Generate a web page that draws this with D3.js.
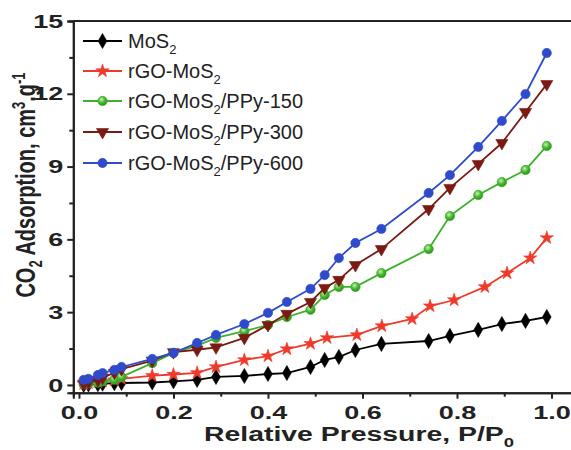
<!DOCTYPE html>
<html>
<head>
<meta charset="utf-8">
<script src="https://cdn.jsdelivr.net/npm/d3@7"></script>
<style>
  html, body { margin: 0; padding: 0; background: #fff; }
  svg { display: block; font-family: "Liberation Sans", Arial, sans-serif; }
</style>
</head>
<body>
<svg id="chart" width="571" height="450"></svg>
<script>
// Relative pressure grid shared by most isotherms
const pressure = [0.01, 0.02, 0.04, 0.05, 0.075, 0.09, 0.155, 0.2, 0.25, 0.29, 0.35, 0.40,
                  0.44, 0.49, 0.52, 0.55, 0.585, 0.64, 0.74, 0.785, 0.845, 0.895, 0.945, 0.99];
// rGO-MoS2 was measured on a slightly different grid
const pressureRGO = [0.01, 0.02, 0.04, 0.05, 0.075, 0.09, 0.155, 0.2, 0.25, 0.29, 0.35, 0.40,
                     0.44, 0.49, 0.525, 0.588, 0.641, 0.705, 0.743, 0.794, 0.859, 0.906, 0.955, 0.99];

// CO2 uptake (cm3/g)
const mos2    = [0.00, 0.02, 0.03, 0.05, 0.07, 0.08, 0.10, 0.15, 0.21, 0.33, 0.37, 0.45,
                 0.49, 0.74, 1.03, 1.15, 1.44, 1.69, 1.81, 2.02, 2.27, 2.51, 2.64, 2.80];
const rgoMos2 = [0.05, 0.08, 0.12, 0.15, 0.20, 0.25, 0.38, 0.43, 0.50, 0.74, 1.03, 1.19,
                 1.48, 1.70, 1.94, 2.06, 2.43, 2.72, 3.25, 3.50, 4.04, 4.61, 5.23, 6.06];
const ppy150  = [0.03, 0.05, 0.10, 0.15, 0.22, 0.33, 0.90, 1.32, 1.62, 1.94, 2.22, 2.47,
                 2.80, 3.10, 3.71, 4.04, 4.04, 4.61, 5.60, 6.96, 7.83, 8.36, 8.86, 9.85];
const ppy300  = [0.05, 0.10, 0.20, 0.30, 0.50, 0.65, 1.00, 1.35, 1.45, 1.55, 1.94, 2.47,
                 2.93, 3.42, 4.00, 4.33, 4.94, 5.60, 7.25, 8.12, 9.11, 9.97, 11.25, 12.40];
const ppy600  = [0.21, 0.25, 0.41, 0.49, 0.62, 0.74, 1.07, 1.32, 1.73, 2.06, 2.51, 2.97,
                 3.42, 3.96, 4.53, 5.23, 5.85, 6.43, 7.91, 8.65, 9.81, 10.88, 11.99, 13.68];

const seriesNames = ["MoS2", "rGO-MoS2", "rGO-MoS2/PPy-150", "rGO-MoS2/PPy-300", "rGO-MoS2/PPy-600"];
const seriesColors = ["#000000", "#ef3a2b", "#3db32a", "#7a1a12", "#2f4bcb"];
const seriesSymbols = ["diamond", "star", "sphere", "triangleDown", "circle"];

const xTicks = [0, 0.2, 0.4, 0.6, 0.8, 1.0];
const xMinor = [0.1, 0.3, 0.5, 0.7, 0.9, 1.1];
const yTicks = [0, 3, 6, 9, 12, 15];
const yMinor = [1.5, 4.5, 7.5, 10.5, 13.5];

const series = [
  { x: pressure,    y: mos2 },
  { x: pressureRGO, y: rgoMos2 },
  { x: pressure,    y: ppy150 },
  { x: pressure,    y: ppy300 },
  { x: pressure,    y: ppy600 }
].map((s, i) => ({
  name: seriesNames[i], color: seriesColors[i], symbol: seriesSymbols[i],
  points: s.x.map((px, j) => [px, s.y[j]])
}));

const svg = d3.select("#chart");
const axisColor = "#222";
const labelStretch = 1.42;   // the bold axis lettering is set wide

const x = d3.scaleLinear().domain([-0.012, 1.2]).range([73.3, 646]);
const y = d3.scaleLinear().domain([-0.32, 15]).range([392.7, 21]);

// Gradient for the shaded green spheres
const defs = svg.append("defs");
const grad = defs.append("radialGradient").attr("id", "greenBall")
  .attr("cx", "40%").attr("cy", "35%").attr("r", "65%");
grad.append("stop").attr("offset", "0%").attr("stop-color", "#c9f0b5");
grad.append("stop").attr("offset", "55%").attr("stop-color", "#45b832");
grad.append("stop").attr("offset", "100%").attr("stop-color", "#2c8f1c");

function markerPath(symbol) {
  switch (symbol) {
    case "diamond": return d3.symbol(d3.symbolDiamond, 66)();
    case "star": return d3.symbol(d3.symbolStar, 55)();
    case "triangleDown": return d3.symbol(d3.symbolTriangle, 64)();
    default: return d3.symbol(d3.symbolCircle, 68)();
  }
}

function drawMarker(g, s, cx, cy) {
  const m = g.append("path")
    .attr("d", markerPath(s.symbol))
    .attr("transform", `translate(${cx},${cy})` + (s.symbol === "triangleDown" ? " rotate(180)" : ""));
  if (s.symbol === "sphere") {
    m.attr("fill", "url(#greenBall)").attr("stroke", s.color).attr("stroke-width", 0.8);
  } else {
    m.attr("fill", s.color).attr("stroke", s.color).attr("stroke-width", 0.6);
  }
}

// Plot series: lines first, then markers
const line = d3.line().x(d => x(d[0])).y(d => y(d[1]));
const plot = svg.append("g");
series.forEach(s => {
  const g = plot.append("g");
  g.append("path").datum(s.points)
    .attr("d", line).attr("fill", "none")
    .attr("stroke", s.color).attr("stroke-width", 1.8);
  s.points.forEach(p => drawMarker(g, s, x(p[0]), y(p[1])));
});

// Axes
const xAxis = svg.append("g").attr("transform", `translate(0,${y.range()[0]})`)
  .call(d3.axisBottom(x).tickValues(xTicks).tickSize(6).tickPadding(4)
    .tickFormat(d3.format(".1f")));
const xAxisMinor = svg.append("g").attr("transform", `translate(0,${y.range()[0]})`)
  .call(d3.axisBottom(x).tickValues(xMinor).tickSize(4).tickFormat(""));
const yAxis = svg.append("g").attr("transform", `translate(${x.range()[0]},0)`)
  .call(d3.axisLeft(y).tickValues(yTicks).tickSize(6).tickPadding(4));
const yAxisMinor = svg.append("g").attr("transform", `translate(${x.range()[0]},0)`)
  .call(d3.axisLeft(y).tickValues(yMinor).tickSize(4).tickFormat(""));

[xAxis, xAxisMinor, yAxis, yAxisMinor].forEach(a => {
  a.select(".domain").attr("stroke", axisColor).attr("stroke-width", 2);
  a.selectAll(".tick line").attr("stroke", axisColor).attr("stroke-width", 2);
  a.selectAll(".tick text").attr("fill", "#222").attr("font-size", 19)
    .attr("font-weight", "bold").attr("font-family", "Liberation Sans, Arial, sans-serif");
});
xAxis.selectAll(".tick text").attr("dy", "0.85em")
  .attr("transform", `scale(${labelStretch},1)`);
yAxis.selectAll(".tick text")
  .attr("x", -10 / labelStretch)
  .attr("transform", `scale(${labelStretch},1)`);

// Top frame line
svg.append("line")
  .attr("x1", x.range()[0]).attr("x2", x.range()[1])
  .attr("y1", y.range()[1]).attr("y2", y.range()[1])
  .attr("stroke", axisColor).attr("stroke-width", 2);

// Axis titles
const xTitle = svg.append("text")
  .attr("transform", `translate(359,441) scale(${labelStretch},1)`)
  .attr("text-anchor", "middle").attr("font-size", 20).attr("font-weight", "bold").attr("fill", "#222");
xTitle.append("tspan").text("Relative Pressure, P/P");
xTitle.append("tspan").attr("font-size", 13).attr("dy", 6).text("0");

// Vertical title: glyphs widened across the reading direction, like the other bold lettering
const yTitle = svg.append("text")
  .attr("transform", `translate(35,185) rotate(-90) scale(1,${labelStretch})`)
  .attr("text-anchor", "middle").attr("font-size", 20).attr("font-weight", "bold").attr("fill", "#222");
yTitle.append("tspan").text("CO");
yTitle.append("tspan").attr("font-size", 13).attr("dy", 5).text("2");
yTitle.append("tspan").attr("dy", -5).text(" Adsorption, cm");
yTitle.append("tspan").attr("font-size", 13).attr("dy", -7).text("3");
yTitle.append("tspan").attr("dy", 7).text(".g");
yTitle.append("tspan").attr("font-size", 13).attr("dy", -7).text("-1");

// Legend
const legend = svg.append("g");
const legendRows = [41, 71, 101, 132, 163];
series.forEach((s, i) => {
  const g = legend.append("g").attr("transform", `translate(0,${legendRows[i]})`);
  g.append("line").attr("x1", 83).attr("x2", 122).attr("y1", 0).attr("y2", 0)
    .attr("stroke", s.color).attr("stroke-width", 1.8);
  drawMarker(g, s, 102.5, 0);
  const t = g.append("text").attr("x", 128).attr("y", 7)
    .attr("font-size", 20).attr("fill", "#222");
  const parts = s.name.split("MoS2");
  t.append("tspan").text(parts[0] + "MoS");
  t.append("tspan").attr("font-size", 13).attr("dy", 6).text("2");
  if (parts[1]) t.append("tspan").attr("dy", -6).text(parts[1]);
});
</script>
</body>
</html>
